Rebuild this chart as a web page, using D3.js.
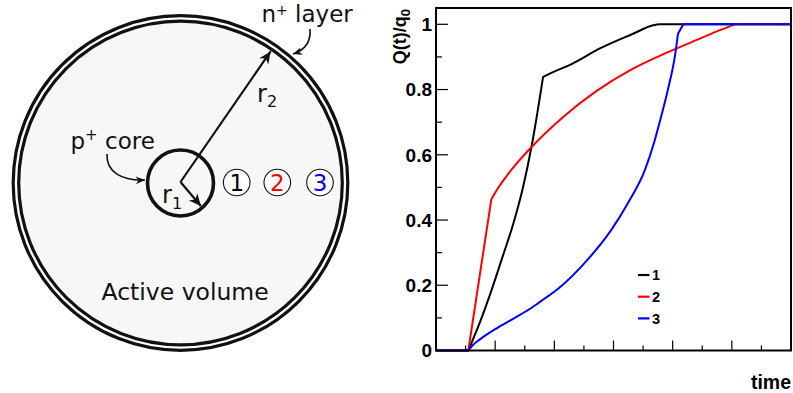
<!DOCTYPE html>
<html><head><meta charset="utf-8">
<script src="https://cdn.jsdelivr.net/npm/d3@7"></script>
<style>body{margin:0;background:#fff}</style>
</head><body>
<svg id="fig" width="793" height="393"></svg>
<script>
// ---- charge collection curves ----
const seriesNames  = ["1", "2", "3"];
const seriesColors = ["#000000", "#ff0000", "#0000ff"];

const time1   = [0, 0.546, 0.75, 0.92, 1.13, 1.30, 1.47, 1.62, 1.81, 1.95, 2.30, 2.77, 3.33, 3.67, 3.78, 6];
const charge1 = [0, 0, 0.09, 0.175, 0.29, 0.385, 0.50, 0.63, 0.839, 0.851, 0.879, 0.926, 0.971, 0.997, 1.0, 1.0];
const corners1 = [1, 8];

const time2   = [0, 0.546, 0.935, 1.025, 1.27, 1.616, 2.15, 2.71, 3.33, 3.90, 4.46, 4.80, 5.05, 6];
const charge2 = [0, 0, 0.463, 0.491, 0.553, 0.624, 0.716, 0.795, 0.864, 0.913, 0.956, 0.982, 1.0, 1.0];
const corners2 = [1, 2, 12];

const time3   = [0, 0.546, 0.62, 0.743, 1.025, 1.31, 1.59, 1.78, 2.07, 2.57, 2.96, 3.24, 3.53, 3.69, 3.78, 3.92, 4.04, 4.09, 4.18, 6];
const charge3 = [0, 0, 0.016, 0.034, 0.068, 0.098, 0.128, 0.152, 0.19, 0.28, 0.369, 0.451, 0.553, 0.64, 0.70, 0.80, 0.905, 0.971, 1.0, 1.0];
const corners3 = [1, 17, 18];

const xMajorTicks = [0, 1, 2, 3, 4, 5, 6];
const xMinorTicks = [0.5, 1.5, 2.5, 3.5, 4.5, 5.5];
const yMajorTicks = [0, 0.2, 0.4, 0.6, 0.8, 1];
const yTickLabels = ["0", "0.2", "0.4", "0.6", "0.8", "1"];
const yMinorTicks = [0.1, 0.3, 0.5, 0.7, 0.9];

const svg = d3.select("#fig");

// ================= detector sketch =================
const cx = 180.5, cy = 183;
const sketch = svg.append("g").attr("font-family", "DejaVu Sans, Verdana, sans-serif").attr("fill", "#111");

const defs = svg.append("defs");
defs.append("marker")
  .attr("id", "head").attr("viewBox", "-13 -6 14 12")
  .attr("markerWidth", 14).attr("markerHeight", 12)
  .attr("refX", 0).attr("refY", 0)
  .attr("orient", "auto").attr("markerUnits", "userSpaceOnUse")
  .append("path").attr("d", "M0,0 L-12,-5.5 L-8.5,0 L-12,5.5 Z").attr("fill", "#111");
defs.append("marker")
  .attr("id", "headSmall").attr("viewBox", "-11 -5 12 10")
  .attr("markerWidth", 11).attr("markerHeight", 10)
  .attr("refX", 0).attr("refY", 0)
  .attr("orient", "auto").attr("markerUnits", "userSpaceOnUse")
  .append("path").attr("d", "M0,0 L-10,-4.2 L-7,0 L-10,4.2 Z").attr("fill", "#111");

// n+ layer: outer ring and active volume
sketch.append("circle").attr("cx", cx).attr("cy", cy).attr("r", 167.3)
  .attr("fill", "#fff").attr("stroke", "#111").attr("stroke-width", 3.2);
sketch.append("circle").attr("cx", cx).attr("cy", cy).attr("r", 161.8)
  .attr("fill", "#f7f7f7").attr("stroke", "#111").attr("stroke-width", 3.2);

// p+ core
sketch.append("circle").attr("cx", cx).attr("cy", cy).attr("r", 33)
  .attr("fill", "#f7f7f7").attr("stroke", "#111").attr("stroke-width", 3.6);

// radius arrows
const ang2 = Math.atan2(-129.7, 88.8);
sketch.append("line").attr("x1", cx).attr("y1", cy - 1)
  .attr("x2", cx + 159.5 * Math.cos(ang2)).attr("y2", cy + 159.5 * Math.sin(ang2))
  .attr("stroke", "#111").attr("stroke-width", 2.2).attr("marker-end", "url(#head)");
const ang1 = Math.atan2(25.6, 21.7);
sketch.append("line").attr("x1", cx).attr("y1", cy - 1)
  .attr("x2", cx + 31.5 * Math.cos(ang1)).attr("y2", cy - 1 + 31.5 * Math.sin(ang1))
  .attr("stroke", "#111").attr("stroke-width", 2.2).attr("marker-end", "url(#head)");

// labels r1, r2
const r2 = sketch.append("text").attr("x", 257).attr("y", 101.5).attr("font-size", 24);
r2.append("tspan").text("r");
r2.append("tspan").attr("font-size", 16).attr("dy", 5).text("2");
const r1 = sketch.append("text").attr("x", 162).attr("y", 202.5).attr("font-size", 24);
r1.append("tspan").text("r");
r1.append("tspan").attr("font-size", 16).attr("dy", 6).text("1");

// p+ core label with curved pointer
const pc = sketch.append("text").attr("x", 70.5).attr("y", 148.5).attr("font-size", 23);
pc.append("tspan").text("p");
pc.append("tspan").attr("font-size", 15).attr("dy", -9).text("+");
pc.append("tspan").attr("dy", 9).text(" core");
sketch.append("path").attr("d", "M107,154 C106,172 122,181 145,180")
  .attr("fill", "none").attr("stroke", "#111").attr("stroke-width", 1.6)
  .attr("marker-end", "url(#headSmall)");

// n+ layer label with curved pointer
const nl = sketch.append("text").attr("x", 261.5).attr("y", 21.5).attr("font-size", 23);
nl.append("tspan").text("n");
nl.append("tspan").attr("font-size", 14).attr("dy", -6.5).text("+");
nl.append("tspan").attr("dy", 6.5).text(" layer");
sketch.append("path").attr("d", "M310,29 C311,41 305,50 293,54")
  .attr("fill", "none").attr("stroke", "#111").attr("stroke-width", 1.6)
  .attr("marker-end", "url(#headSmall)");

// interaction positions 1, 2, 3
const spotX = [236.7, 277.3, 320];
spotX.forEach((sx, i) => {
  sketch.append("circle").attr("cx", sx).attr("cy", 182.5).attr("r", 13.3)
    .attr("fill", "#fff").attr("stroke", "#111").attr("stroke-width", 1.1);
  sketch.append("text").attr("x", sx).attr("y", 190.8).attr("text-anchor", "middle")
    .attr("font-size", 23).attr("fill", seriesColors[i]).text(seriesNames[i]);
});

sketch.append("text").attr("x", 101.5).attr("y", 300).attr("font-size", 23.5).text("Active volume");

// ================= charge plot =================
const x = d3.scaleLinear().domain([0, 6]).range([436, 791]);
const y = d3.scaleLinear().domain([0, 1.05]).range([350.5, 8]);

const plot = svg.append("g").attr("font-family", "Liberation Sans, Arial, Helvetica, sans-serif")
  .attr("font-weight", "bold");

const tickG = plot.append("g").attr("stroke", "#000").attr("stroke-width", 1.2);
xMajorTicks.forEach(t => tickG.append("line").attr("x1", x(t)).attr("x2", x(t)).attr("y1", y(0)).attr("y2", y(0) - 10));
xMinorTicks.forEach(t => tickG.append("line").attr("x1", x(t)).attr("x2", x(t)).attr("y1", y(0)).attr("y2", y(0) - 5));
yMajorTicks.forEach(v => tickG.append("line").attr("x1", x(0)).attr("x2", x(0) + 12).attr("y1", y(v)).attr("y2", y(v)));
yMinorTicks.forEach(v => tickG.append("line").attr("x1", x(0)).attr("x2", x(0) + 6).attr("y1", y(v)).attr("y2", y(v)));

yMajorTicks.forEach((v, i) => {
  plot.append("text").attr("x", 432).attr("y", y(v)).attr("dy", "0.36em")
    .attr("text-anchor", "end").attr("font-size", 19).text(yTickLabels[i]);
});

// curves: smooth (monotone) between the sharp corners of each trace
const smooth = d3.line().x(d => x(d[0])).y(d => y(d[1])).curve(d3.curveMonotoneX);
const series = [[time1, charge1, corners1], [time2, charge2, corners2], [time3, charge3, corners3]];
series.forEach(([ts, qs, corners], i) => {
  const pts = ts.map((t, k) => [t, qs[k]]);
  const breaks = [0, ...corners, pts.length - 1];
  const d = breaks.slice(1).map((b, j) => {
    const seg = pts.slice(breaks[j], b + 1);
    const p = smooth(seg);
    return j === 0 ? p : p.replace(/^M[^CLZ]*/, "");
  }).join("");
  plot.append("path").attr("d", d).attr("fill", "none")
    .attr("stroke", seriesColors[i]).attr("stroke-width", 2)
    .attr("stroke-linejoin", "round");
});

// frame
plot.append("rect").attr("x", x(0)).attr("y", y(1.05))
  .attr("width", x(6) - x(0)).attr("height", y(0) - y(1.05))
  .attr("fill", "none").attr("stroke", "#000").attr("stroke-width", 2);

// legend
seriesNames.forEach((name, i) => {
  const ly = 275 + i * 21.7;
  plot.append("line").attr("x1", 638).attr("x2", 649.5).attr("y1", ly).attr("y2", ly)
    .attr("stroke", seriesColors[i]).attr("stroke-width", 2.2);
  plot.append("text").attr("x", 652).attr("y", ly).attr("dy", "0.36em")
    .attr("font-size", 14.5).text(name);
});

// axis titles
plot.append("text").attr("x", 791).attr("y", 389).attr("text-anchor", "end")
  .attr("font-size", 19.5).text("time");
const yl = plot.append("text").attr("transform", "translate(406,9) rotate(-90)")
  .attr("text-anchor", "end").attr("font-size", 18);
yl.append("tspan").text("Q(t)/q");
yl.append("tspan").attr("font-size", 13).attr("dy", 4).text("0");
</script>
</body></html>
